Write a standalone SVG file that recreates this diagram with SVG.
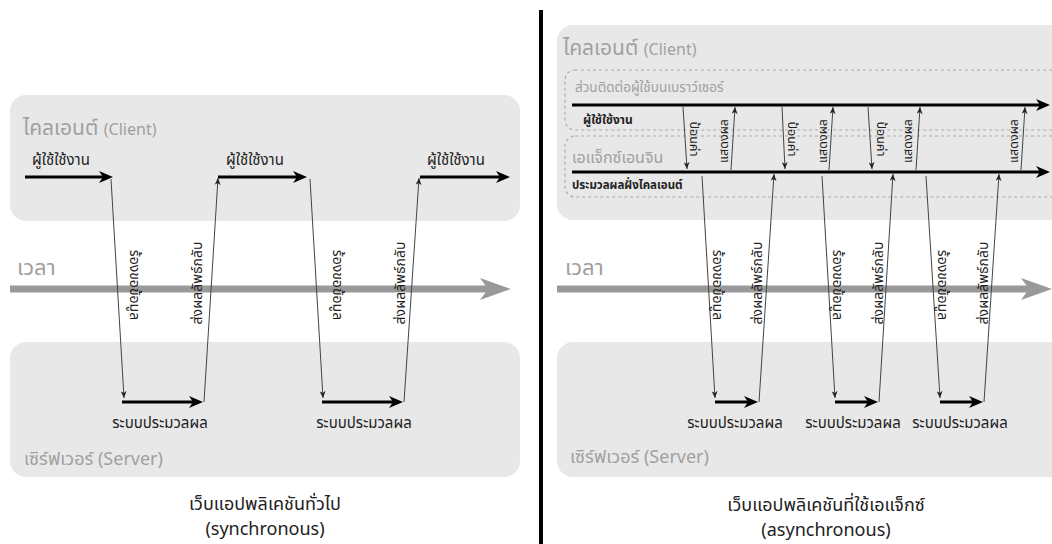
<svg xmlns="http://www.w3.org/2000/svg" width="1052" height="544" viewBox="0 0 1052 544">
<style>
text{font-family:"Noto Sans Thai","Noto Sans","DejaVu Sans","Liberation Sans",sans-serif}
.box{fill:#e8e8e8}
.dash{fill:none;stroke:#aaa;stroke-width:1.2;stroke-dasharray:3 3}
.sec{fill:#a0a0a0;font-size:21px}
.sec tspan{font-size:16px}
.time{fill:#a0a0a0;font-size:22px}
.srv{fill:#a0a0a0;font-size:18px}
.lbl{fill:#222;font-size:15px}
.rot{fill:#222;font-size:14px;text-anchor:middle}
.rots{fill:#222;font-size:12.5px;text-anchor:middle}
.thick{stroke:#000;stroke-width:3;fill:none;marker-end:url(#big)}
.thin{stroke:#444;stroke-width:1;fill:none;marker-end:url(#small)}
.axis{stroke:#999;stroke-width:7;fill:none}
.title{fill:#222;font-size:18px;text-anchor:middle}
</style>
<defs>
<marker id="big" viewBox="0 0 14 12" refX="6" refY="6" markerWidth="14" markerHeight="12" markerUnits="userSpaceOnUse" orient="auto">
<path d="M0,0 L14,6 L0,12 L4,6 z" fill="#000"/>
</marker>
<marker id="small" viewBox="0 0 7 6" refX="7" refY="3" markerWidth="7" markerHeight="6" markerUnits="userSpaceOnUse" orient="auto">
<path d="M0,0 L7,3 L0,6 L2,3 z" fill="#222"/>
</marker>
</defs>
<rect x="0" y="0" width="1052" height="544" fill="#fff"/>

<!-- LEFT: synchronous -->
<g id="client-sync">
<rect class="box" x="10" y="95" width="510" height="126" rx="16"/>
<text class="sec" x="23" y="135">ไคลเอนต์ <tspan>(Client)</tspan></text>
<text class="lbl" x="32" y="165">ผู้ใช้ใช้งาน</text>
<text class="lbl" x="226" y="165">ผู้ใช้ใช้งาน</text>
<text class="lbl" x="427" y="165">ผู้ใช้ใช้งาน</text>
</g>
<g id="time-sync">
<text class="time" x="17" y="275">เวลา</text>
<line class="axis" x1="10" y1="289" x2="492" y2="289"/>
<path d="M480,278 L511,289 L480,300 L488,289 z" fill="#999"/>
</g>
<g id="server-sync">
<rect class="box" x="10" y="342" width="510" height="135" rx="16"/>
<text class="lbl" x="160" y="428" text-anchor="middle">ระบบประมวลผล</text>
<text class="lbl" x="364" y="428" text-anchor="middle">ระบบประมวลผล</text>
<text class="srv" x="24" y="465">เซิร์ฟเวอร์ (Server)</text>
</g>
<g id="title-sync">
<text class="title" x="265" y="510">เว็บแอปพลิเคชันทั่วไป</text>
<text class="title" x="265" y="535">(synchronous)</text>
</g>

<!-- divider -->
<rect x="539" y="10" width="4" height="534" fill="#000"/>

<!-- RIGHT: asynchronous -->
<g id="client-async">
<rect class="box" x="557" y="25" width="520" height="195" rx="16"/>
<text class="sec" x="563" y="55">ไคลเอนต์ <tspan>(Client)</tspan></text>
</g>
<g id="browser-ui">
<rect class="dash" x="565" y="70" width="520" height="60" rx="10"/>
<text x="575" y="92" fill="#a0a0a0" font-size="13.5">ส่วนติดต่อผู้ใช้บนเบราว์เซอร์</text>
<text x="583" y="124" fill="#222" font-size="12" font-weight="bold">ผู้ใช้ใช้งาน</text>
</g>
<g id="ajax-engine">
<rect class="dash" x="565" y="136" width="520" height="61" rx="10"/>
<text x="572" y="163" fill="#a0a0a0" font-size="16">เอแจ็กซ์เอนจิน</text>
<text x="572" y="189" fill="#222" font-size="11.5" font-weight="bold">ประมวลผลฝั่งไคลเอนต์</text>
</g>
<g id="time-async">
<text class="time" x="565" y="275">เวลา</text>
<line class="axis" x1="557" y1="289" x2="1032" y2="289"/>
<path d="M1021,278 L1052,289 L1021,300 L1029,289 z" fill="#999"/>
</g>
<g id="server-async">
<rect class="box" x="557" y="342" width="520" height="135" rx="16"/>
<text class="lbl" x="735" y="428" text-anchor="middle">ระบบประมวลผล</text>
<text class="lbl" x="853" y="428" text-anchor="middle">ระบบประมวลผล</text>
<text class="lbl" x="960" y="428" text-anchor="middle">ระบบประมวลผล</text>
<text class="srv" x="570" y="463">เซิร์ฟเวอร์ (Server)</text>
</g>
<g id="title-async">
<text class="title" x="826" y="511">เว็บแอปพลิเคชันที่ใช้เอแจ็กซ์</text>
<text class="title" x="826" y="536">(asynchronous)</text>
</g>

<!-- connectors -->
<g id="connectors">
<!-- left thick -->
<line class="thick" x1="25" y1="177" x2="105" y2="177"/>
<line class="thick" x1="218" y1="177" x2="299" y2="177"/>
<line class="thick" x1="420" y1="177" x2="502" y2="177"/>
<line class="thick" x1="122" y1="402" x2="195" y2="402"/>
<line class="thick" x1="322" y1="402" x2="395" y2="402"/>
<!-- left thin -->
<line class="thin" x1="111" y1="179" x2="124" y2="398"/>
<line class="thin" x1="204" y1="402" x2="218" y2="178"/>
<line class="thin" x1="310" y1="179" x2="323" y2="398"/>
<line class="thin" x1="404" y1="402" x2="419" y2="178"/>
<!-- right thick -->
<line class="thick" x1="572" y1="105" x2="1042" y2="105"/>
<line class="thick" x1="572" y1="172" x2="1042" y2="172"/>
<line class="thick" x1="715" y1="402" x2="750" y2="402"/>
<line class="thick" x1="835" y1="402" x2="870" y2="402"/>
<line class="thick" x1="940" y1="402" x2="975" y2="402"/>
<!-- right thin: UI <-> engine -->
<line class="thin" x1="683" y1="107" x2="687" y2="169"/>
<line class="thin" x1="731" y1="170" x2="735" y2="107"/>
<line class="thin" x1="782" y1="107" x2="785" y2="169"/>
<line class="thin" x1="829" y1="170" x2="833" y2="107"/>
<line class="thin" x1="868" y1="107" x2="872" y2="169"/>
<line class="thin" x1="916" y1="170" x2="920" y2="107"/>
<line class="thin" x1="1021" y1="170" x2="1025" y2="107"/>
<!-- right thin: engine <-> server -->
<line class="thin" x1="702" y1="176" x2="715" y2="398"/>
<line class="thin" x1="759" y1="402" x2="774" y2="174"/>
<line class="thin" x1="822" y1="176" x2="835" y2="398"/>
<line class="thin" x1="879" y1="402" x2="893" y2="174"/>
<line class="thin" x1="926" y1="176" x2="940" y2="398"/>
<line class="thin" x1="984" y1="402" x2="999" y2="174"/>
</g>

<g id="connector-labels">
<text class="rot" transform="translate(130,285) rotate(90)">ร้องขอข้อมูล</text>
<text class="rot" transform="translate(202,283) rotate(-90)">ส่งผลลัพธ์กลับ</text>
<text class="rot" transform="translate(333,285) rotate(90)">ร้องขอข้อมูล</text>
<text class="rot" transform="translate(405,283) rotate(-90)">ส่งผลลัพธ์กลับ</text>
<text class="rot" transform="translate(713,285) rotate(90)">ร้องขอข้อมูล</text>
<text class="rot" transform="translate(762,283) rotate(-90)">ส่งผลลัพธ์กลับ</text>
<text class="rot" transform="translate(833,285) rotate(90)">ร้องขอข้อมูล</text>
<text class="rot" transform="translate(883,283) rotate(-90)">ส่งผลลัพธ์กลับ</text>
<text class="rot" transform="translate(938,285) rotate(90)">ร้องขอข้อมูล</text>
<text class="rot" transform="translate(988,283) rotate(-90)">ส่งผลลัพธ์กลับ</text>
<text class="rots" transform="translate(690,139) rotate(90)">ป้อนค่า</text>
<text class="rots" transform="translate(728,141) rotate(-90)">แสดงผล</text>
<text class="rots" transform="translate(788,139) rotate(90)">ป้อนค่า</text>
<text class="rots" transform="translate(827,141) rotate(-90)">แสดงผล</text>
<text class="rots" transform="translate(877,139) rotate(90)">ป้อนค่า</text>
<text class="rots" transform="translate(912,141) rotate(-90)">แสดงผล</text>
<text class="rots" transform="translate(1018,141) rotate(-90)">แสดงผล</text>
</g>
</svg>
